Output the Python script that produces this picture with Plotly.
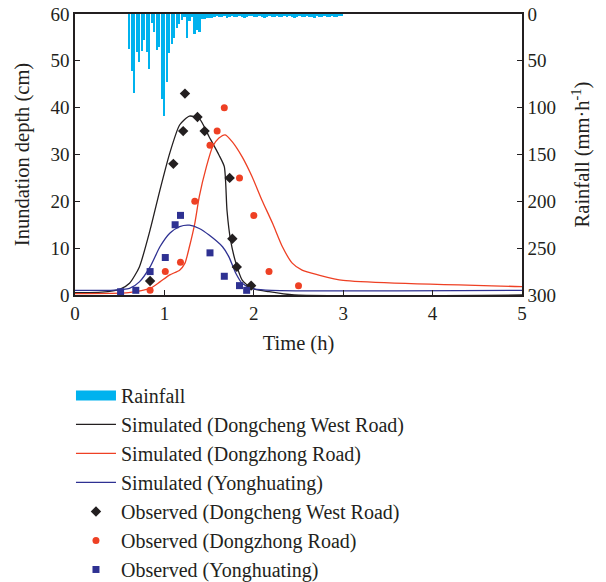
import plotly.graph_objects as go

# ---------------- data ----------------
rain_t0 = 0.61
rain_dt = 0.028
rainfall = [37, 61, 84, 41, 51, 39, 28, 41, 59, 10, 19, 38, 35, 91, 109, 73, 42, 32,
            26, 15, 11, 6, 3, 26, 8, 3, 21, 17, 19, 5, 5, 4, 4, 4,
            3, 2, 3, 3, 2, 4, 3, 2, 3, 3, 2, 3, 4, 3, 2, 2, 3, 3, 2, 3, 4, 3, 2, 3,
            3, 2, 3, 3, 2, 3, 2, 3, 4, 3, 2, 3, 3, 2, 3, 3, 4, 2, 3, 3, 2, 3, 3, 2,
            3, 3, 2, 2]
rain_time = [round(rain_t0 + i * rain_dt, 4) for i in range(len(rainfall))]

sim_dc_t = [0, 0.3, 0.5, 0.61, 0.72, 0.84, 0.95, 1.06, 1.17, 1.28, 1.39, 1.50, 1.61, 1.67,
            1.70, 1.74, 1.80, 1.87, 1.98, 2.17, 2.45, 5.0]
sim_dc_y = [0.5, 0.6, 1.2, 2.5, 6.0, 13.9, 22.4, 30.3, 36.3, 38.2, 37.7, 33.8, 29.9, 27.4,
            18.1, 11.7, 6.8, 3.2, 1.4, 0.7, 0.0, 0.0]

sim_dz_t = [0, 0.6, 0.84, 0.95, 1.06, 1.17, 1.23, 1.28, 1.34, 1.39, 1.47, 1.54, 1.61, 1.68,
            1.76, 1.87, 1.98, 2.09, 2.21, 2.32, 2.43, 2.54, 2.72, 3.0, 5.0]
sim_dz_y = [0.3, 0.5, 1.4, 2.8, 4.3, 5.3, 6.8, 10.3, 15.3, 21.0, 27.4, 31.7, 33.5, 34.2,
            32.7, 29.5, 25.3, 20.3, 15.3, 10.3, 6.8, 5.3, 4.3, 3.1, 1.8]

sim_yh_t = [0, 0.4, 0.61, 0.72, 0.84, 0.95, 1.06, 1.17, 1.28, 1.39, 1.50, 1.65, 1.72, 1.80,
            1.87, 1.98, 2.2, 5.0]
sim_yh_y = [1.0, 1.0, 1.4, 2.8, 6.0, 10.3, 13.2, 14.6, 14.9, 14.2, 12.8, 10.3, 8.2, 4.6,
            2.5, 1.4, 1.0, 1.0]

obs_dc_t = [0.84, 1.10, 1.21, 1.23, 1.37, 1.45, 1.73, 1.76, 1.81, 1.97]
obs_dc_y = [3.0, 28.0, 35.0, 43.0, 38.0, 35.0, 25.0, 12.0, 6.0, 2.0]

obs_dz_t = [0.84, 1.01, 1.18, 1.34, 1.51, 1.59, 1.67, 1.84, 2.00, 2.17, 2.50]
obs_dz_y = [1.0, 5.0, 7.0, 20.0, 32.0, 35.0, 40.0, 25.0, 17.0, 5.0, 2.0]

obs_yh_t = [0.51, 0.68, 0.84, 1.01, 1.12, 1.18, 1.51, 1.67, 1.84, 1.92]
obs_yh_y = [0.7, 1.0, 5.0, 8.0, 15.0, 17.0, 9.0, 4.0, 2.0, 1.0]

x_ticks = [0, 1, 2, 3, 4, 5]
y_ticks = [0, 10, 20, 30, 40, 50, 60]
y2_ticks = [0, 50, 100, 150, 200, 250, 300]

# ---------------- figure ----------------
FONT = "Liberation Serif"
BLACK = "#231F20"
RED = "#EE4024"
BLUE = "#2E3192"
SKY = "#00B2EE"

fig = go.Figure()
fig.add_trace(go.Bar(x=rain_time, y=rainfall, yaxis="y2", name="Rainfall", showlegend=False,
                     marker=dict(color=SKY, line=dict(width=0)), width=0.02))
# legend proxy for the rainfall bars (wide rectangle swatch)
fig.add_trace(go.Scatter(x=[None], y=[None], mode="lines", name="Rainfall",
                         line=dict(color=SKY, width=10)))
fig.add_trace(go.Scatter(x=sim_dc_t, y=sim_dc_y, mode="lines", name="Simulated (Dongcheng West Road)",
                         line=dict(color=BLACK, width=1.3, shape="spline", smoothing=0.6)))
fig.add_trace(go.Scatter(x=sim_dz_t, y=sim_dz_y, mode="lines", name="Simulated (Dongzhong Road)",
                         line=dict(color=RED, width=1.3, shape="spline", smoothing=0.6)))
fig.add_trace(go.Scatter(x=sim_yh_t, y=sim_yh_y, mode="lines", name="Simulated (Yonghuating)",
                         line=dict(color=BLUE, width=1.3, shape="spline", smoothing=0.6)))
fig.add_trace(go.Scatter(x=obs_dc_t, y=obs_dc_y, mode="markers", name="Observed (Dongcheng West Road)",
                         marker=dict(symbol="diamond", color=BLACK, size=8)))
fig.add_trace(go.Scatter(x=obs_dz_t, y=obs_dz_y, mode="markers", name="Observed (Dongzhong Road)",
                         marker=dict(symbol="circle", color=RED, size=7)))
fig.add_trace(go.Scatter(x=obs_yh_t, y=obs_yh_y, mode="markers", name="Observed (Yonghuating)",
                         marker=dict(symbol="square", color=BLUE, size=7)))

axis_common = dict(showline=True, linecolor=BLACK, linewidth=1.5, ticks="inside", ticklen=5,
                   tickcolor=BLACK, tickwidth=1, showgrid=False, zeroline=False, automargin=False,
                   tickfont=dict(family=FONT, size=19, color=BLACK),
                   title_font=dict(family=FONT, size=20.5, color=BLACK))

fig.update_layout(
    width=606, height=582,
    margin=dict(l=75, r=84, t=14, b=287),
    paper_bgcolor="white", plot_bgcolor="white",
    font=dict(family=FONT, size=19, color=BLACK),
    bargap=0,
    xaxis=dict(range=[0, 5], tickvals=x_ticks, mirror=True,
               title=dict(text="Time (h)", standoff=13), **axis_common),
    yaxis=dict(range=[0, 60], tickvals=y_ticks,
               title=dict(text="Inundation depth (cm)", standoff=15), **axis_common),
    yaxis2=dict(range=[300, 0], tickvals=y2_ticks, overlaying="y", side="right",
                title=dict(text="Rainfall (mm·h<sup>-1</sup>)", standoff=20), **axis_common),
    showlegend=True,
    legend=dict(x=-0.009, xref="paper", y=0.354, yref="container", xanchor="left", yanchor="top",
                traceorder="normal",
                font=dict(family=FONT, size=20, color=BLACK), bgcolor="rgba(0,0,0,0)",
                itemwidth=40, tracegroupgap=0),
)

fig.write_html("out.html")
